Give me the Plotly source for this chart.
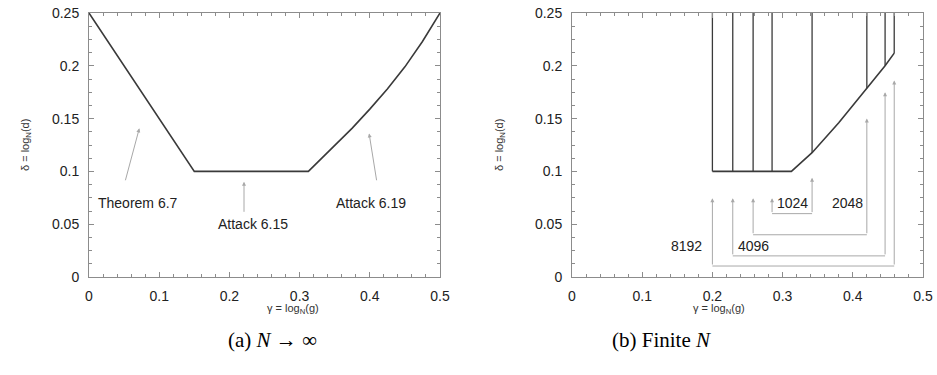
import plotly.graph_objects as go
from plotly.subplots import make_subplots

# ---------------- data ----------------
# (a) N -> infinity : bound curve
inf_gamma = [0.0, 0.15, 0.3125, 0.35, 0.375, 0.40, 0.425, 0.45, 0.475, 0.5]
inf_delta = [0.25, 0.10, 0.10, 0.1245, 0.141, 0.159, 0.178, 0.199, 0.223, 0.25]

# annotation labels for (a)
a_labels = ["Theorem 6.7", "Attack 6.15", "Attack 6.19"]
a_label_x = [0.070, 0.233, 0.402]
a_label_y = [0.0698, 0.050, 0.0698]
a_tail_x = [0.0513, 0.2208, 0.410]
a_tail_y = [0.0902, 0.0603, 0.0902]
a_head_x = [0.0717, 0.2208, 0.399]
a_head_y = [0.1408, 0.0902, 0.136]

# (b) finite N : lower boundary
fin_gamma = [0.20, 0.3125, 0.342, 0.38, 0.42, 0.446, 0.459]
fin_delta = [0.10, 0.10, 0.1177, 0.146, 0.1787, 0.200, 0.212]
# vertical boundary lines (gamma position, bottom delta)
vline_gamma = [0.200, 0.229, 0.258, 0.285, 0.342, 0.420, 0.446, 0.459]
vline_bottom = [0.10, 0.10, 0.10, 0.10, 0.1177, 0.1787, 0.200, 0.212]
delta_top = 0.25

# bracket annotations for N values
n_labels = ["1024", "2048", "4096", "8192"]
n_left_gamma = [0.285, 0.258, 0.229, 0.200]
n_right_gamma = [0.342, 0.420, 0.446, 0.459]
n_bracket_delta = [0.060, 0.040, 0.020, 0.0104]
n_left_tip = [0.0745, 0.0745, 0.0745, 0.0745]
n_right_tip = [0.094, 0.150, 0.175, 0.186]
n_label_x = [0.3138, 0.3927, 0.258, 0.163]
n_label_y = [0.0698, 0.0698, 0.0294, 0.0294]

x_ticks = [0, 0.1, 0.2, 0.3, 0.4, 0.5]
x_ticktext = ["0", "0.1", "0.2", "0.3", "0.4", "0.5"]
y_ticks = [0, 0.05, 0.1, 0.15, 0.2, 0.25]
y_ticktext = ["0", "0.05", "0.1", "0.15", "0.2", "0.25"]

captions = ["(a) <i>N</i> → ∞", "(b) Finite <i>N</i>"]

# ---------------- figure ----------------
LINE = "#3a3a3a"
ARROW = "#a8a8a8"
AXIS = "#8c8c8c"
FONT = "Liberation Sans, Arial, sans-serif"

W, H = 937, 375

fig = make_subplots(rows=1, cols=2)

fig.add_trace(go.Scatter(x=inf_gamma, y=inf_delta, mode="lines",
                         line=dict(color=LINE, width=1.6), showlegend=False,
                         hoverinfo="skip"), row=1, col=1)

fig.add_trace(go.Scatter(x=fin_gamma, y=fin_delta, mode="lines",
                         line=dict(color=LINE, width=1.6), showlegend=False,
                         hoverinfo="skip"), row=1, col=2)

vx, vy = [], []
for g, b in zip(vline_gamma, vline_bottom):
    vx += [g, g, None]
    vy += [b, delta_top, None]
fig.add_trace(go.Scatter(x=vx, y=vy, mode="lines",
                         line=dict(color=LINE, width=1.3), showlegend=False,
                         hoverinfo="skip"), row=1, col=2)

# horizontal bracket segments
bx, by = [], []
for xl, xr, yb in zip(n_left_gamma, n_right_gamma, n_bracket_delta):
    bx += [xl, xr, None]
    by += [yb, yb, None]
fig.add_trace(go.Scatter(x=bx, y=by, mode="lines",
                         line=dict(color=ARROW, width=1), showlegend=False,
                         hoverinfo="skip"), row=1, col=2)

annotations = []
# arrows (a)
for tx, ty, hx, hy in zip(a_tail_x, a_tail_y, a_head_x, a_head_y):
    annotations.append(dict(x=hx, y=hy, ax=tx, ay=ty, xref="x", yref="y",
                            axref="x", ayref="y", text="", showarrow=True,
                            arrowhead=2, arrowsize=0.8, arrowwidth=1,
                            arrowcolor=ARROW))
for t, x, y in zip(a_labels, a_label_x, a_label_y):
    annotations.append(dict(x=x, y=y, xref="x", yref="y", text=t,
                            showarrow=False,
                            font=dict(family=FONT, size=14, color="#222")))
# arrows (b)
for xl, xr, yb, tl, tr in zip(n_left_gamma, n_right_gamma, n_bracket_delta,
                              n_left_tip, n_right_tip):
    for gx, tip in ((xl, tl), (xr, tr)):
        annotations.append(dict(x=gx, y=tip, ax=gx, ay=yb, xref="x2", yref="y2",
                                axref="x2", ayref="y2", text="", showarrow=True,
                                arrowhead=2, arrowsize=0.8, arrowwidth=1,
                                arrowcolor=ARROW))
for t, x, y in zip(n_labels, n_label_x, n_label_y):
    annotations.append(dict(x=x, y=y, xref="x2", yref="y2", text=t,
                            showarrow=False,
                            font=dict(family=FONT, size=14, color="#222")))

dom1 = [89 / W, 440 / W]
dom2 = [572 / W, 923 / W]
plot_top, plot_bot = 13, 277
plot_h = plot_bot - plot_top

def py(px):
    """screen pixel row -> paper y"""
    return (plot_bot - px) / plot_h

# axis titles
for xc in [sum(dom1) / 2, sum(dom2) / 2]:
    annotations.append(dict(x=xc, y=py(318), xref="paper", yref="paper",
                            text="γ = log<sub>N</sub>(g)", showarrow=False,
                            font=dict(family=FONT, size=11, color="#333")))
for xs in [17, 500]:
    annotations.append(dict(x=xs / W, y=0.5, xref="paper", yref="paper",
                            text="δ = log<sub>N</sub>(d)", showarrow=False,
                            textangle=-90,
                            font=dict(family=FONT, size=11, color="#333")))
# captions
for cap, xs in zip(captions, [226, 713]):
    annotations.append(dict(x=xs / W, y=py(354), xref="paper", yref="paper",
                            text=cap, showarrow=False,
                            font=dict(family="Liberation Serif, DejaVu Serif, serif",
                                      size=21, color="#000")))

axis_common = dict(showgrid=False, zeroline=False, showline=True,
                   linecolor=AXIS, linewidth=1, mirror="ticks",
                   ticks="inside", ticklen=5, tickcolor=AXIS, automargin=False,
                   ticklabeloverflow="allow",
                   tickfont=dict(family=FONT, size=14, color="#222"))

fig.update_xaxes(**axis_common, range=[0, 0.5], tickvals=x_ticks,
                 ticktext=x_ticktext, ticklabelstandoff=6,
                 minor=dict(dtick=0.02, ticks="inside", ticklen=3,
                            tickcolor=AXIS, showgrid=False))
fig.update_yaxes(**axis_common, range=[0, 0.25], tickvals=y_ticks,
                 ticktext=y_ticktext, ticklabelstandoff=6,
                 minor=dict(dtick=0.0125, ticks="inside", ticklen=3,
                            tickcolor=AXIS, showgrid=False))

fig.update_layout(
    width=W, height=H,
    margin=dict(l=0, r=0, t=plot_top, b=H - plot_bot),
    plot_bgcolor="white", paper_bgcolor="white",
    xaxis=dict(domain=dom1),
    xaxis2=dict(domain=dom2),
    annotations=annotations,
    showlegend=False,
)

# remove the browser's default 8px body margin so the figure fills the window
fig.write_html("out.html",
               config={"displayModeBar": False},
               post_script="document.body.style.margin='0';"
                           "document.body.style.overflow='hidden';")
